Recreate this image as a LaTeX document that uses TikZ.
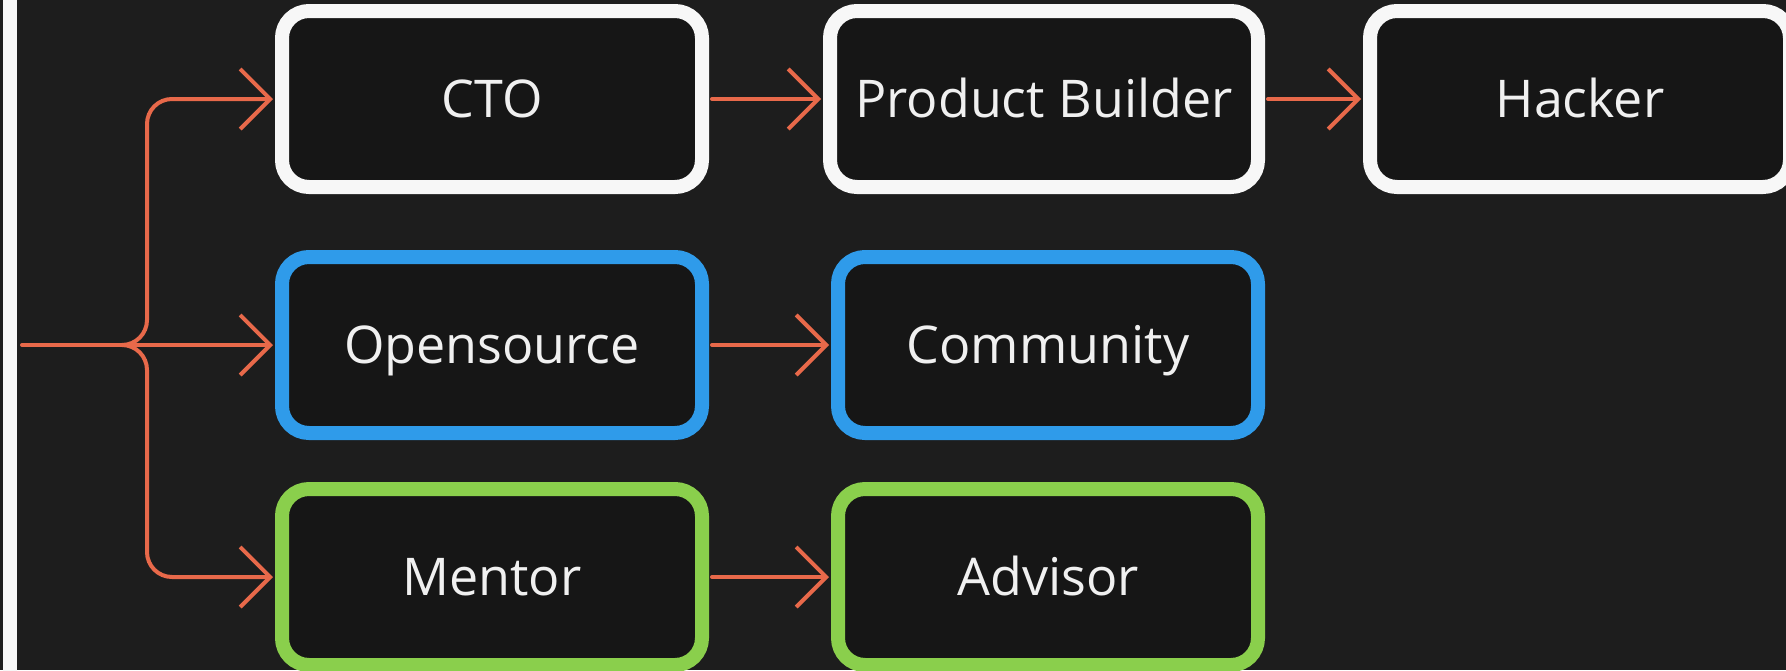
\documentclass[tikz,border=0pt]{standalone}
\usepackage{fontspec}
\setmainfont{Open Sans}
\usetikzlibrary{arrows.meta}

\definecolor{canvas}{HTML}{1D1D1D}
\definecolor{boxfill}{HTML}{161616}
\definecolor{flow}{HTML}{E8694A}
\definecolor{lineWhite}{HTML}{F7F7F7}
\definecolor{lineBlue}{HTML}{2F9BEA}
\definecolor{lineGreen}{HTML}{8ACF4C}
\definecolor{label}{HTML}{F0F0F0}

\tikzset{
  role/.style={draw, fill=boxfill, line width=14pt, outer sep=7pt,
    rounded corners=27pt, minimum width=420pt, minimum height=176pt,
    inner sep=0pt, text=label, font=\fontsize{52}{62}\selectfont,
    text height=37pt, text depth=0pt},
  wide/.style={minimum width=428pt},
  link/.style={draw=flow, line width=4pt, line cap=round, line join=round},
  arrowlink/.style={link, -{Straight Barb[length=30pt,width=60pt]},
    shorten >=2pt, shorten <=3pt},
}

\begin{document}
\begin{tikzpicture}[x=1pt, y=-1pt]
  \useasboundingbox (0,0) rectangle (1786,670);
  \clip (0,0) rectangle (1786,670);
  \fill[canvas] (0,0) rectangle (1786,670);

  % left margin rule
  \draw[lineWhite, line width=14pt] (10,-5) -- (10,675);

  % roles
  \node[role, draw=lineWhite] (cto)     at (492,99)   {CTO};
  \node[role, wide, draw=lineWhite] (builder) at (1044,99) {Product Builder};
  \node[role, draw=lineWhite] (hacker)  at (1580,99)  {Hacker};
  \node[role, draw=lineBlue]  (oss)     at (492,345)  {Opensource};
  \node[role, draw=lineBlue]  (community) at (1048,345) {Community};
  \node[role, draw=lineGreen] (mentor)  at (492,577)  {Mentor};
  \node[role, draw=lineGreen] (advisor) at (1048,577) {Advisor};

  % fork feeding the three tracks
  \coordinate (entry) at (22,345);
  \coordinate (split) at (122,345);
  \draw[link] (entry) -- (split);
  \draw[arrowlink, shorten <=0pt, rounded corners=25pt]
    (split) -- (147,345) |- (cto.west);
  \draw[arrowlink, shorten <=0pt] (split) -- (oss.west);
  \draw[arrowlink, shorten <=0pt, rounded corners=25pt]
    (split) -- (147,345) |- (mentor.west);

  % progressions
  \draw[arrowlink] (cto.east) -- (builder.west);
  \draw[arrowlink] (builder.east) -- (hacker.west);
  \draw[arrowlink] (oss.east) -- (community.west);
  \draw[arrowlink] (mentor.east) -- (advisor.west);
\end{tikzpicture}
\end{document}
